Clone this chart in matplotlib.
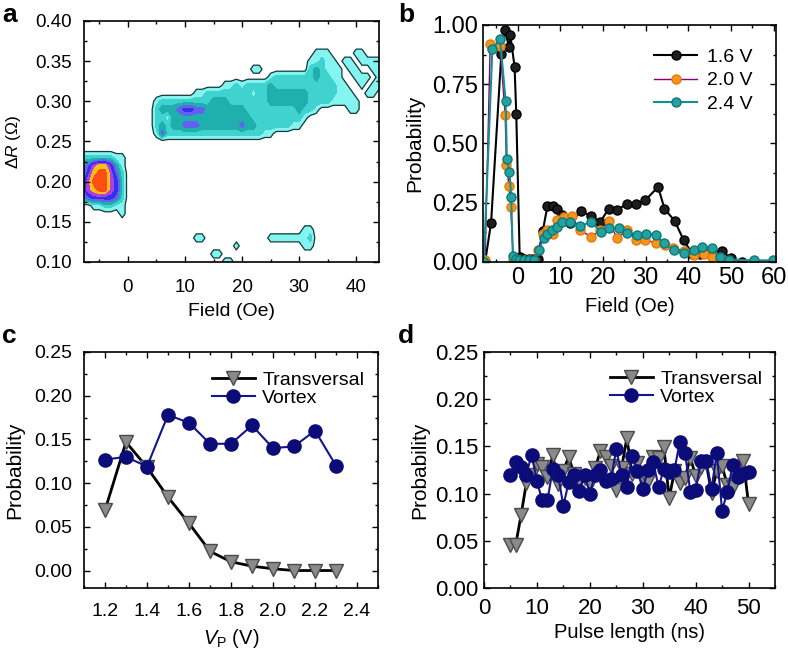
import numpy as np
import matplotlib
matplotlib.use('Agg')
import matplotlib.pyplot as plt
from matplotlib.ticker import MultipleLocator, FormatStrFormatter

plt.rcParams['font.family'] = ['Liberation Sans', 'DejaVu Sans']
plt.rcParams['mathtext.fontset'] = 'custom'
plt.rcParams['mathtext.rm'] = 'Liberation Sans'
plt.rcParams['mathtext.it'] = 'Liberation Sans:italic'
plt.rcParams['font.size'] = 12

# --- panel a: contour levels (rows: dR from 0.39 down to 0.10,
#     columns: field -8 .. 45 Oe, grouped -8..-1 | 0..9 | 10..19 | 20..29 | 30..39 | 40..45)
field_a = np.arange(-8, 46)
dr_a = np.round(np.arange(0.10, 0.395, 0.01), 2)
rows_a = [
    "00000000 0000000000 0000000000 0000000000 0000000000 000000",  # 0.39
    "00000000 0000000000 0000000000 0000000000 0000000000 000000",  # 0.38
    "00000000 0000000000 0000000000 0000000000 0000000000 000000",  # 0.37
    "00000000 0000000000 0000000000 0000000000 0001110000 110000",  # 0.36
    "00000000 0000000000 0000000000 0000000000 0011211011 011111",  # 0.35
    "00000000 0000000000 0000000000 0011000000 0023211101 100111",  # 0.34
    "00000000 0000000000 0000000000 0000012222 2223221100 111011",  # 0.33
    "00000000 0000000000 0000000112 1222232222 2222222110 010111",  # 0.32
    "00000000 0000000000 0011222222 2212233333 3322222111 001100",  # 0.31
    "00000000 0000012222 2222233322 2222233333 3322221111 100000",  # 0.30
    "00000000 0000023334 5544333333 3222222222 3221000001 100000",  # 0.29
    "00000000 0000022133 3333333333 3322222222 2100000000 000000",  # 0.28
    "00000000 0000023233 4443333333 4332222221 1000000000 000000",  # 0.27
    "00000000 0000014222 2222222222 2222110000 0000000000 000000",  # 0.26
    "00000000 0000000000 0000000000 0000000000 0000000000 000000",  # 0.25
    "00000000 0000000000 0000000000 0000000000 0000000000 000000",  # 0.24
    "22222211 0000000000 0000000000 0000000000 0000000000 000000",  # 0.23
    "34677531 0000000000 0000000000 0000000000 0000000000 000000",  # 0.22
    "35788642 0000000000 0000000000 0000000000 0000000000 000000",  # 0.21
    "46888652 0000000000 0000000000 0000000000 0000000000 000000",  # 0.20
    "46788652 0000000000 0000000000 0000000000 0000000000 000000",  # 0.19
    "34555542 0000000000 0000000000 0000000000 0000000000 000000",  # 0.18
    "00112211 0000000000 0000000000 0000000000 0000000000 000000",  # 0.17
    "00000001 0000000000 0000000000 0000000000 0000000000 000000",  # 0.16
    "00000000 0000000000 0000000000 0000000000 0000000000 000000",  # 0.15
    "00000000 0000000000 0000000000 0000000000 0110000000 000000",  # 0.14
    "00000000 0000000000 0011000000 0000011111 1120000000 000000",  # 0.13
    "00000000 0000000000 0000000001 0000000000 0110000000 000000",  # 0.12
    "00000000 0000000000 0000011000 0000000000 0000000000 000000",  # 0.11
    "00000000 0000000000 0000000110 0000000000 0000000000 000000",  # 0.10
]
level_colors = ['#84F4F0', '#40D2CE', '#1FB0AE', '#6262F2', '#3232E6',
                '#B23CE6', '#FFC00F', '#FF4E14']

# --- panel b: switching probability vs field
f16 = [-7.6, -6.2, -3.8, -3.0, -2.0, -1.7, -0.7, -0.3, 0.5, 1.5, 2.6, 3.7, 4.8, 5.9,
       7.0, 8.3, 9.2, 10.4, 12.3, 14.9, 17.2, 19.4, 21.3, 23.3, 25.6, 27.8, 29.9,
       32.9, 34.4, 36.8, 38.9, 40.9, 42.8, 45.0, 47.9, 50.0, 52.5]
p16 = [0.0, 0.166, 0.878, 0.98, 0.908, 0.958, 0.824, 0.624, 0.02, 0.012, 0.012, 0.012,
       0.014, 0.13, 0.237, 0.237, 0.225, 0.197, 0.165, 0.215, 0.193, 0.169, 0.225,
       0.218, 0.246, 0.246, 0.26, 0.317, 0.225, 0.173, 0.092, 0.035, 0.032, 0.04,
       0.046, 0.015, 0.0]
f20 = [-7.6, -6.4, -4.1, -2.9, -2.6, -2.0, -1.6, -1.0, 0.4, 1.5, 2.7, 3.9, 4.8, 5.9,
       7.0, 8.3, 9.2, 10.8, 12.7, 14.7, 17.2, 19.4, 21.3, 23.3, 25.6, 27.8, 29.9,
       32.3, 34.6, 36.5, 38.9, 41.3, 43.6, 45.5, 47.9, 49.8]
p20 = [0.01, 0.92, 0.91, 0.62, 0.41, 0.32, 0.23, 0.01, 0.008, 0.008, 0.008, 0.008,
       0.05, 0.12, 0.135, 0.12, 0.176, 0.19, 0.193, 0.134, 0.106, 0.134, 0.175, 0.10,
       0.134, 0.092, 0.094, 0.08, 0.07, 0.06, 0.045, 0.028, 0.035, 0.022, 0.014, 0.0]
f24 = [-7.9, -5.9, -4.1, -2.8, -2.5, -1.9, -1.5, -1.1, -0.3, 0.4, 1.5, 2.7, 3.9, 5.0,
       6.1, 7.0, 8.0, 9.2, 10.4, 12.3, 14.7, 17.1, 19.5, 21.4, 23.7, 25.7, 28.0, 30.0,
       32.3, 34.3, 36.6, 39.0, 41.3, 43.3, 45.6, 47.5, 49.5, 55.4, 59.7]
p24 = [0.0, 0.90, 0.94, 0.68, 0.433, 0.381, 0.276, 0.025, 0.014, 0.01, 0.01, 0.01,
       0.01, 0.05, 0.10, 0.12, 0.134, 0.148, 0.169, 0.169, 0.15, 0.17, 0.128, 0.142,
       0.142, 0.124, 0.114, 0.12, 0.114, 0.079, 0.051, 0.037, 0.051, 0.065, 0.058,
       0.02, 0.01, 0.007, 0.007]

# --- panel c: probability vs pulse voltage
vp = [1.2, 1.3, 1.4, 1.5, 1.6, 1.7, 1.8, 1.9, 2.0, 2.1, 2.2, 2.3]
trans_c = [0.069, 0.147, 0.118, 0.084, 0.054, 0.022, 0.010, 0.005, 0.002, 0.0, 0.0, 0.0]
vortex_c = [0.127, 0.130, 0.119, 0.178, 0.169, 0.145, 0.145, 0.166, 0.140, 0.142, 0.160, 0.120]

# --- panel d: probability vs pulse length (5 .. 50 ns)
pulse = list(range(5, 51))
trans_d = [0.046, 0.046, 0.077, 0.111, 0.120, 0.131, 0.128, 0.118, 0.141, 0.110,
           0.124, 0.139, 0.121, 0.112, 0.117, 0.110, 0.127, 0.145, 0.139, 0.129,
           0.104, 0.127, 0.159, 0.121, 0.132, 0.116, 0.113, 0.139, 0.138, 0.149,
           0.095, 0.124, 0.111, 0.117, 0.138, 0.119, 0.128, 0.132, 0.101, 0.124,
           0.129, 0.109, 0.107, 0.128, 0.135, 0.089]
vortex_d = [0.120, 0.133, 0.128, 0.120, 0.141, 0.113, 0.093, 0.093, 0.126, 0.120,
            0.087, 0.112, 0.120, 0.103, 0.120, 0.100, 0.120, 0.125, 0.113, 0.115,
            0.147, 0.120, 0.107, 0.140, 0.124, 0.105, 0.125, 0.133, 0.107, 0.126,
            0.123, 0.125, 0.155, 0.143, 0.102, 0.104, 0.135, 0.135, 0.105, 0.143,
            0.082, 0.102, 0.130, 0.118, 0.121, 0.123]


def style(ax, xmaj, xmin, ymaj, ymin, xfmt, yfmt, fs, xpad, ypad):
    ax.xaxis.set_major_locator(MultipleLocator(xmaj))
    ax.xaxis.set_minor_locator(MultipleLocator(xmin))
    ax.yaxis.set_major_locator(MultipleLocator(ymaj))
    ax.yaxis.set_minor_locator(MultipleLocator(ymin))
    ax.xaxis.set_major_formatter(FormatStrFormatter(xfmt))
    ax.yaxis.set_major_formatter(FormatStrFormatter(yfmt))
    ax.tick_params(which='both', direction='in', top=True, right=True, width=1.0)
    ax.tick_params(which='major', length=4.5, labelsize=fs)
    ax.tick_params(which='minor', length=2.5)
    ax.tick_params(axis='x', which='major', pad=xpad)
    ax.tick_params(axis='y', which='major', pad=ypad)
    for s in ax.spines.values():
        s.set_linewidth(1.2)


fig = plt.figure(figsize=(7.88, 6.54), dpi=100)

# a
ax = fig.add_axes([0.1066, 0.5994, 0.3744, 0.3685])
Z = np.array([[int(ch) for ch in r.replace(' ', '')] for r in rows_a])[::-1]
ax.contourf(field_a, dr_a, Z, levels=np.arange(0.5, 9.0, 1.0), colors=level_colors)
ax.contour(field_a, dr_a, Z, levels=[0.5], colors='#1c3838', linewidths=0.9)
ax.set_xlim(-7.7, 44)
ax.set_ylim(0.10, 0.40)
style(ax, 10, 5, 0.05, 0.025, '%d', '%.2f', 13.5, 12.5, 8.5)
ax.set_xlabel('Field (Oe)', fontsize=14, labelpad=5)
ax.set_ylabel('Δ$\\it{R}$ (Ω)', fontsize=12.5, labelpad=9)

# b
ax = fig.add_axes([0.6129, 0.5994, 0.3718, 0.3624])
ax.plot(f16, p16, '-o', color='black', lw=1.5, ms=6.5, mfc='#1e1e1e', mec='#000000',
        label='1.6 V')
ax.plot(f20, p20, '-o', color='#800080', lw=1.0, ms=6.5, mfc='#F7941D', mec='#E47B0C',
        label='2.0 V')
ax.plot(f24, p24, '-o', color='#178F8F', lw=1.5, ms=6.5, mfc='#22A3A0', mec='#117777',
        label='2.4 V')
ax.set_xlim(-8.1, 60.5)
ax.set_ylim(0, 1.0)
style(ax, 10, 5, 0.25, 0.125, '%d', '%.2f', 17, 3.5, 3.5)
ax.set_xlabel('Field (Oe)', fontsize=14.5, labelpad=6)
ax.set_ylabel('Probability', fontsize=15, labelpad=6)
ax.legend(loc='upper right', frameon=False, fontsize=14, handlelength=2.2,
          labelspacing=0.3, handletextpad=0.5, borderaxespad=0.8)

# c
ax = fig.add_axes([0.1066, 0.1009, 0.3731, 0.3609])
ax.plot(vp, trans_c, '-v', color='black', lw=2.0, ms=9.5, mfc='#8a8a8a', mec='#4a4a4a',
        label='Transversal')
ax.plot(vp, vortex_c, '-o', color='#14148c', lw=1.5, ms=9.5, mfc='#0c0c78', mec='#0c0c78',
        label='Vortex')
ax.set_xlim(1.1, 2.5)
ax.set_ylim(-0.02, 0.25)
style(ax, 0.2, 0.1, 0.05, 0.025, '%.1f', '%.2f', 14, 10.5, 8.5)
ax.set_xlabel('$\\it{V}_\\mathrm{P}$ (V)', fontsize=14.5, labelpad=5)
ax.set_ylabel('Probability', fontsize=15, labelpad=7)
ax.legend(loc='upper right', bbox_to_anchor=(1.0, 0.975), frameon=False, fontsize=14,
          handlelength=2.2, labelspacing=0.0, handletextpad=0.4, borderaxespad=0.3)

# d
ax = fig.add_axes([0.6142, 0.1009, 0.3693, 0.3609])
ax.plot(pulse, trans_d, '-v', color='black', lw=2.0, ms=9.5, mfc='#8a8a8a', mec='#4a4a4a',
        label='Transversal')
ax.plot(pulse, vortex_d, '-o', color='#14148c', lw=1.5, ms=9.5, mfc='#0c0c78', mec='#0c0c78',
        label='Vortex')
ax.set_xlim(0, 55)
ax.set_ylim(0, 0.25)
style(ax, 10, 5, 0.05, 0.025, '%d', '%.2f', 16, 7.5, 4)
ax.set_xlabel('Pulse length (ns)', fontsize=14.5, labelpad=2.5)
ax.set_ylabel('Probability', fontsize=15, labelpad=4)
ax.legend(loc='upper right', bbox_to_anchor=(1.0, 0.975), frameon=False, fontsize=14,
          handlelength=2.2, labelspacing=0.0, handletextpad=0.4, borderaxespad=0.25)

for lab, x, y in [('a', 0.003, 0.966), ('b', 0.505, 0.966),
                  ('c', 0.003, 0.476), ('d', 0.505, 0.476)]:
    fig.text(x, y, lab, fontsize=19, fontweight='bold', va='baseline')

fig.savefig('out.png', dpi=100)
